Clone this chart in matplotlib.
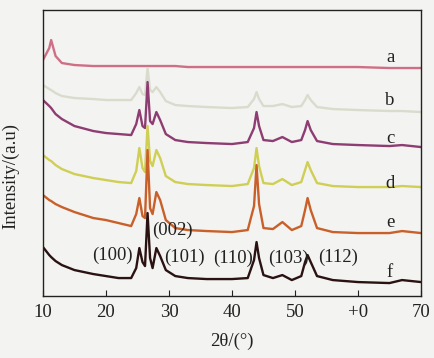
import matplotlib
matplotlib.use("Agg")
import matplotlib.pyplot as plt

# 2theta sample positions (deg)
two_theta = [10, 11, 11.3, 12, 13, 15, 18, 20, 22, 24, 24.8, 25.3, 25.8, 26.2, 26.6, 27.0, 27.4,
             28.0, 28.6, 29.5, 31, 33, 36, 40, 42.5, 43.5, 43.9, 44.3, 45, 46.5, 48, 49.5,
             51, 51.6, 52, 52.5, 53.5, 56, 60, 65, 67, 70]

# stacked intensities (arbitrary units, offsets included)
curve_a = [236, 248, 256, 240, 233, 231, 230, 230, 230, 230, 230, 230, 230, 230, 230, 230, 230,
           230, 230, 230, 230, 229, 229, 229, 229, 229, 229, 229, 229, 229, 229, 229,
           229, 229, 229, 229, 229, 229, 229, 228, 228, 228]
curve_b = [211, 207, 206, 203, 200, 198, 197, 196, 196, 196, 203, 209, 202, 201, 228, 206, 204,
           209, 204, 195, 191, 190, 189, 188, 189, 197, 204, 197, 190, 190, 192, 189,
           190, 196, 201, 196, 189, 187, 186, 185, 185, 184]
curve_c = [196, 190, 188, 182, 177, 170, 165, 163, 162, 161, 172, 186, 170, 168, 214, 175, 172,
           184, 176, 162, 156, 154, 153, 152, 154, 168, 184, 170, 156, 155, 159, 154,
           156, 166, 175, 166, 155, 152, 151, 150, 151, 149]
curve_d = [141, 136, 135, 131, 127, 122, 118, 116, 114, 113, 125, 148, 128, 124, 170, 135, 130,
           146, 138, 120, 114, 112, 111, 110, 112, 128, 148, 130, 113, 112, 117, 111,
           114, 126, 134, 126, 113, 110, 109, 109, 110, 109]
curve_e = [101, 96, 95, 92, 89, 84, 78, 76, 73, 70, 82, 98, 80, 78, 146, 88, 82,
           104, 96, 76, 68, 66, 65, 64, 66, 90, 131, 92, 68, 67, 74, 66,
           70, 86, 98, 86, 68, 64, 63, 63, 65, 63]
curve_f = [49, 41, 39, 35, 31, 26, 22, 20, 18, 18, 28, 48, 34, 30, 83, 38, 28,
           48, 40, 26, 20, 18, 17, 17, 18, 36, 54, 38, 21, 18, 21, 16,
           20, 34, 41, 34, 20, 16, 14, 13, 16, 14]

series = [curve_a, curve_b, curve_c, curve_d, curve_e, curve_f]
series_names = ["a", "b", "c", "d", "e", "f"]
series_colors = ["#cf6f86", "#d9dccd", "#8e3d72", "#cfcf55", "#c9602a", "#2a1212"]
name_y = [239, 196, 158, 113, 74, 24]

peak_labels = ["(100)", "(002)", "(101)", "(110)", "(103)", "(112)"]
peak_label_x = [21.1, 30.6, 32.5, 40.2, 48.9, 56.8]
peak_label_y = [41, 66, 39, 38, 38, 39]

xtick_values = [10, 20, 30, 40, 50, 60, 70]
xtick_labels = ["10", "20", "30", "40", "50", "+0", "70"]

plt.rcParams["font.family"] = ["Liberation Serif", "DejaVu Serif"]

bg = "#f3f3f1"
fig = plt.figure(figsize=(4.34, 3.58), dpi=100, facecolor=bg)
ax = fig.add_axes([0.099, 0.173, 0.871, 0.799], facecolor=bg)

for ys, c in zip(series, series_colors):
    ax.plot(two_theta, ys, color=c, lw=1.7, solid_joinstyle="round")

for n, yv in zip(series_names, name_y):
    ax.text(65.1, yv, n, fontsize=13.5, ha="center", va="center", color="#222222")

for lab, xv, yv in zip(peak_labels, peak_label_x, peak_label_y):
    ax.text(xv, yv, lab, fontsize=13.5, ha="center", va="center", color="#222222")

ax.set_xlim(10, 70)
ax.set_ylim(0, 286)
ax.set_xticks(xtick_values)
ax.set_xticklabels(xtick_labels)
ax.set_yticks([])
ax.tick_params(axis="x", direction="in", length=4, labelsize=13.5, colors="#222222", pad=6)
for s in ax.spines.values():
    s.set_linewidth(1.0)
    s.set_color("#222222")

ax.set_xlabel("2θ/(°)", fontsize=13.5, color="#222222", labelpad=8)
ax.set_ylabel("Intensity/(a.u)", fontsize=13.5, color="#222222", labelpad=6)
ax.yaxis.set_label_coords(-0.062, 0.42)

fig.savefig("out.png", dpi=100, facecolor=bg)
